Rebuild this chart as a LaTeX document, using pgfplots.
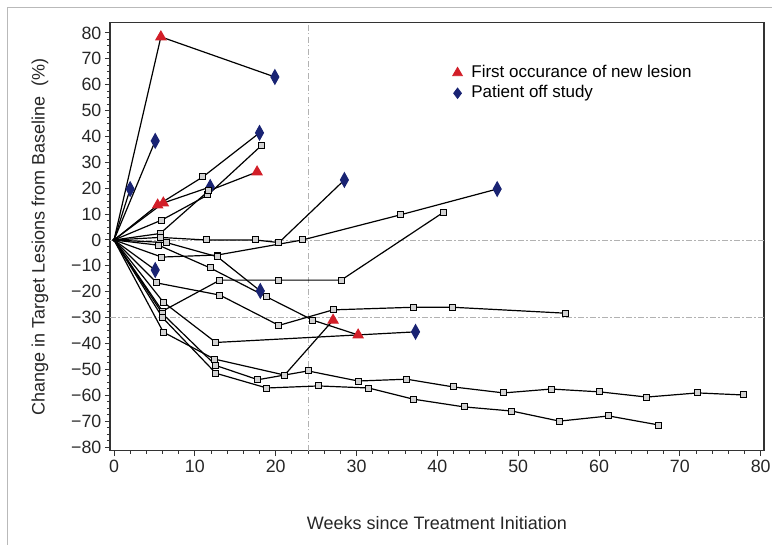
\documentclass[border=0pt]{standalone}
\usepackage{pgfplots}
\pgfplotsset{compat=1.18}
\usepackage{fontspec}
\setmainfont{Liberation Sans}
\definecolor{lesred}{RGB}{210,30,40}
\definecolor{offblue}{RGB}{25,35,115}

\pgfplotsset{
  spider/.style={black, line width=0.6pt, scatter, forget plot,
    point meta=explicit symbolic,
    scatter/classes={
      o={mark=*, mark size=0.3pt, black},
      s={mark=square*, mark size=1.5pt, draw=black, fill=gray!35, line width=0.5pt},
      r={mark=triangle*, mark size=2.8pt, draw=lesred, fill=lesred},
      d={mark=diamond*, mark size=2.6pt, yscale=1.35, draw=offblue, fill=offblue}}},
}

\begin{document}
\begin{tikzpicture}
\useasboundingbox (0pt,0pt) rectangle (386pt,272.5pt);
\draw[gray!55, line width=0.5pt] (3.5pt,0pt) -- (3.5pt,268.5pt) -- (386pt,268.5pt);
\begin{axis}[
  at={(57pt,152.5pt)}, anchor=origin, scale only axis,
  width=327pt, height=214pt,
  xmin=-0.5, xmax=80.4, ymin=-81.5, ymax=83.9,
  xtick={0,10,...,80}, minor x tick num=4,
  ytick={-80,-70,...,80}, minor y tick num=3,
  yticklabels={−80,−70,−60,−50,−40,−30,−20,−10,0,10,20,30,40,50,60,70,80},
  tick align=outside, tick pos=left,
  major tick length=2.6pt, minor tick length=1.5pt,
  axis line style={line width=0.6pt, black!80},
  tick style={black!80, line width=0.5pt},
  /pgf/number format/assume math mode=true,
  ticklabel style={font=\fontsize{8.9}{10}\selectfont, text=black!85},
  xticklabel style={inner sep=2pt},
  yticklabel style={inner sep=1.5pt},
  xlabel={Weeks since Treatment Initiation},
  ylabel={Change in Target Lesions from Baseline\ \ (\%)},
  xlabel style={at={(axis description cs:0.5,-0.168)}, anchor=center, font=\fontsize{9}{10}\selectfont, text=black!85},
  ylabel style={at={(axis description cs:-0.107,0.5)}, anchor=center, font=\fontsize{9}{10}\selectfont, text=black!85},
  legend style={draw=none, fill=none, at={(axis cs:41.6,70)}, anchor=north west,
    font=\fontsize{8.5}{9}\selectfont, row sep=-1.5pt, inner sep=1pt},
  legend cell align=left,
  clip=false,
]
\draw[gray!60, line width=0.4pt, dash pattern=on 3pt off 1.2pt on 0.6pt off 1.2pt] (axis cs:-0.5,0) -- (axis cs:80.4,0);
\draw[gray!60, line width=0.4pt, dash pattern=on 3pt off 1.2pt on 0.6pt off 1.2pt] (axis cs:-0.5,-30) -- (axis cs:80.4,-30);
\draw[gray!60, line width=0.4pt, dash pattern=on 3pt off 1.2pt on 0.6pt off 1.2pt] (axis cs:24,-81.5) -- (axis cs:24,83.9);

\addlegendimage{only marks, mark=triangle*, mark size=2.8pt, draw=lesred, fill=lesred}
\addlegendentry{\hspace{2.5pt}First occurance of new lesion}
\addlegendimage{only marks, mark=diamond*, mark size=2.6pt, draw=offblue, fill=offblue}
\addlegendentry{\hspace{2.5pt}Patient off study}

\addplot[spider] table[meta=t] {
x y t
0 0 o
5.8 78.5 r
19.9 63 d
};
\addplot[spider] table[meta=t] {
x y t
0 0 o
2.0 19.7 d
};
\addplot[spider] table[meta=t] {
x y t
0 0 o
5.1 38.3 d
};
\addplot[spider] table[meta=t] {
x y t
0 0 o
5.4 13.5 r
11.0 24.4 s
18.0 41.4 d
};
\addplot[spider] table[meta=t] {
x y t
0 0 o
6.1 14.3 r
11.9 20.5 d
};
\addplot[spider] table[meta=t] {
x y t
0 0 o
5.9 7.7 s
11.6 17.4 s
18.3 36.7 s
};
\addplot[spider] table[meta=t] {
x y t
0 0 o
5.7 2.5 s
11.7 19 s
17.7 26.3 r
};
\addplot[spider] table[meta=t] {
x y t
0 0 o
5.7 1 s
11.4 0 s
17.5 0 s
20.4 -1 s
28.5 23.2 d
};
\addplot[spider] table[meta=t] {
x y t
0 0 o
5.9 -6.6 s
12.8 -5.8 s
23.3 0 s
35.4 9.7 s
47.4 19.7 d
};
\addplot[spider] table[meta=t] {
x y t
0 0 o
6.0 -27.5 s
13.1 -15.5 s
20.4 -15.5 s
28.1 -15.5 s
40.8 10.8 s
};
\addplot[spider] table[meta=t] {
x y t
0 0 o
5.5 -2 s
11.9 -10.8 s
18.9 -22 s
24.6 -31 s
30.2 -36.7 r
};
\addplot[spider] table[meta=t] {
x y t
0 0 o
5.1 -11.6 d
};
\addplot[spider] table[meta=t] {
x y t
0 0 o
6.5 -1 s
12.8 -6.5 s
18.1 -19.7 d
};
\addplot[spider] table[meta=t] {
x y t
0 0 o
5.3 -16.6 s
13.1 -21.3 s
20.4 -33 s
27.1 -27 s
37.0 -26 s
41.9 -26 s
55.9 -28.3 s
};
\addplot[spider] table[meta=t] {
x y t
0 0 o
6.1 -24 s
12.6 -39.6 s
37.3 -35.5 d
};
\addplot[spider] table[meta=t] {
x y t
0 0 o
6.1 -35.6 s
12.4 -46 s
21.1 -52.2 s
27.1 -31 r
};
\addplot[spider] table[meta=t] {
x y t
0 0 o
6.0 -28.5 s
12.6 -48.5 s
17.8 -54 s
24.0 -50.6 s
30.2 -54.5 s
36.2 -53.8 s
42.0 -56.8 s
48.2 -59.1 s
54.1 -57.6 s
60.1 -58.7 s
65.9 -60.7 s
72.2 -59.1 s
77.9 -59.9 s
};
\addplot[spider] table[meta=t] {
x y t
0 0 o
6.0 -30 s
12.6 -51.5 s
18.9 -57.2 s
25.3 -56.4 s
31.5 -57.2 s
37.0 -61.5 s
43.3 -64.5 s
49.2 -66.1 s
55.1 -70 s
61.2 -68 s
67.4 -71.5 s
};
\end{axis}
\end{tikzpicture}
\end{document}
